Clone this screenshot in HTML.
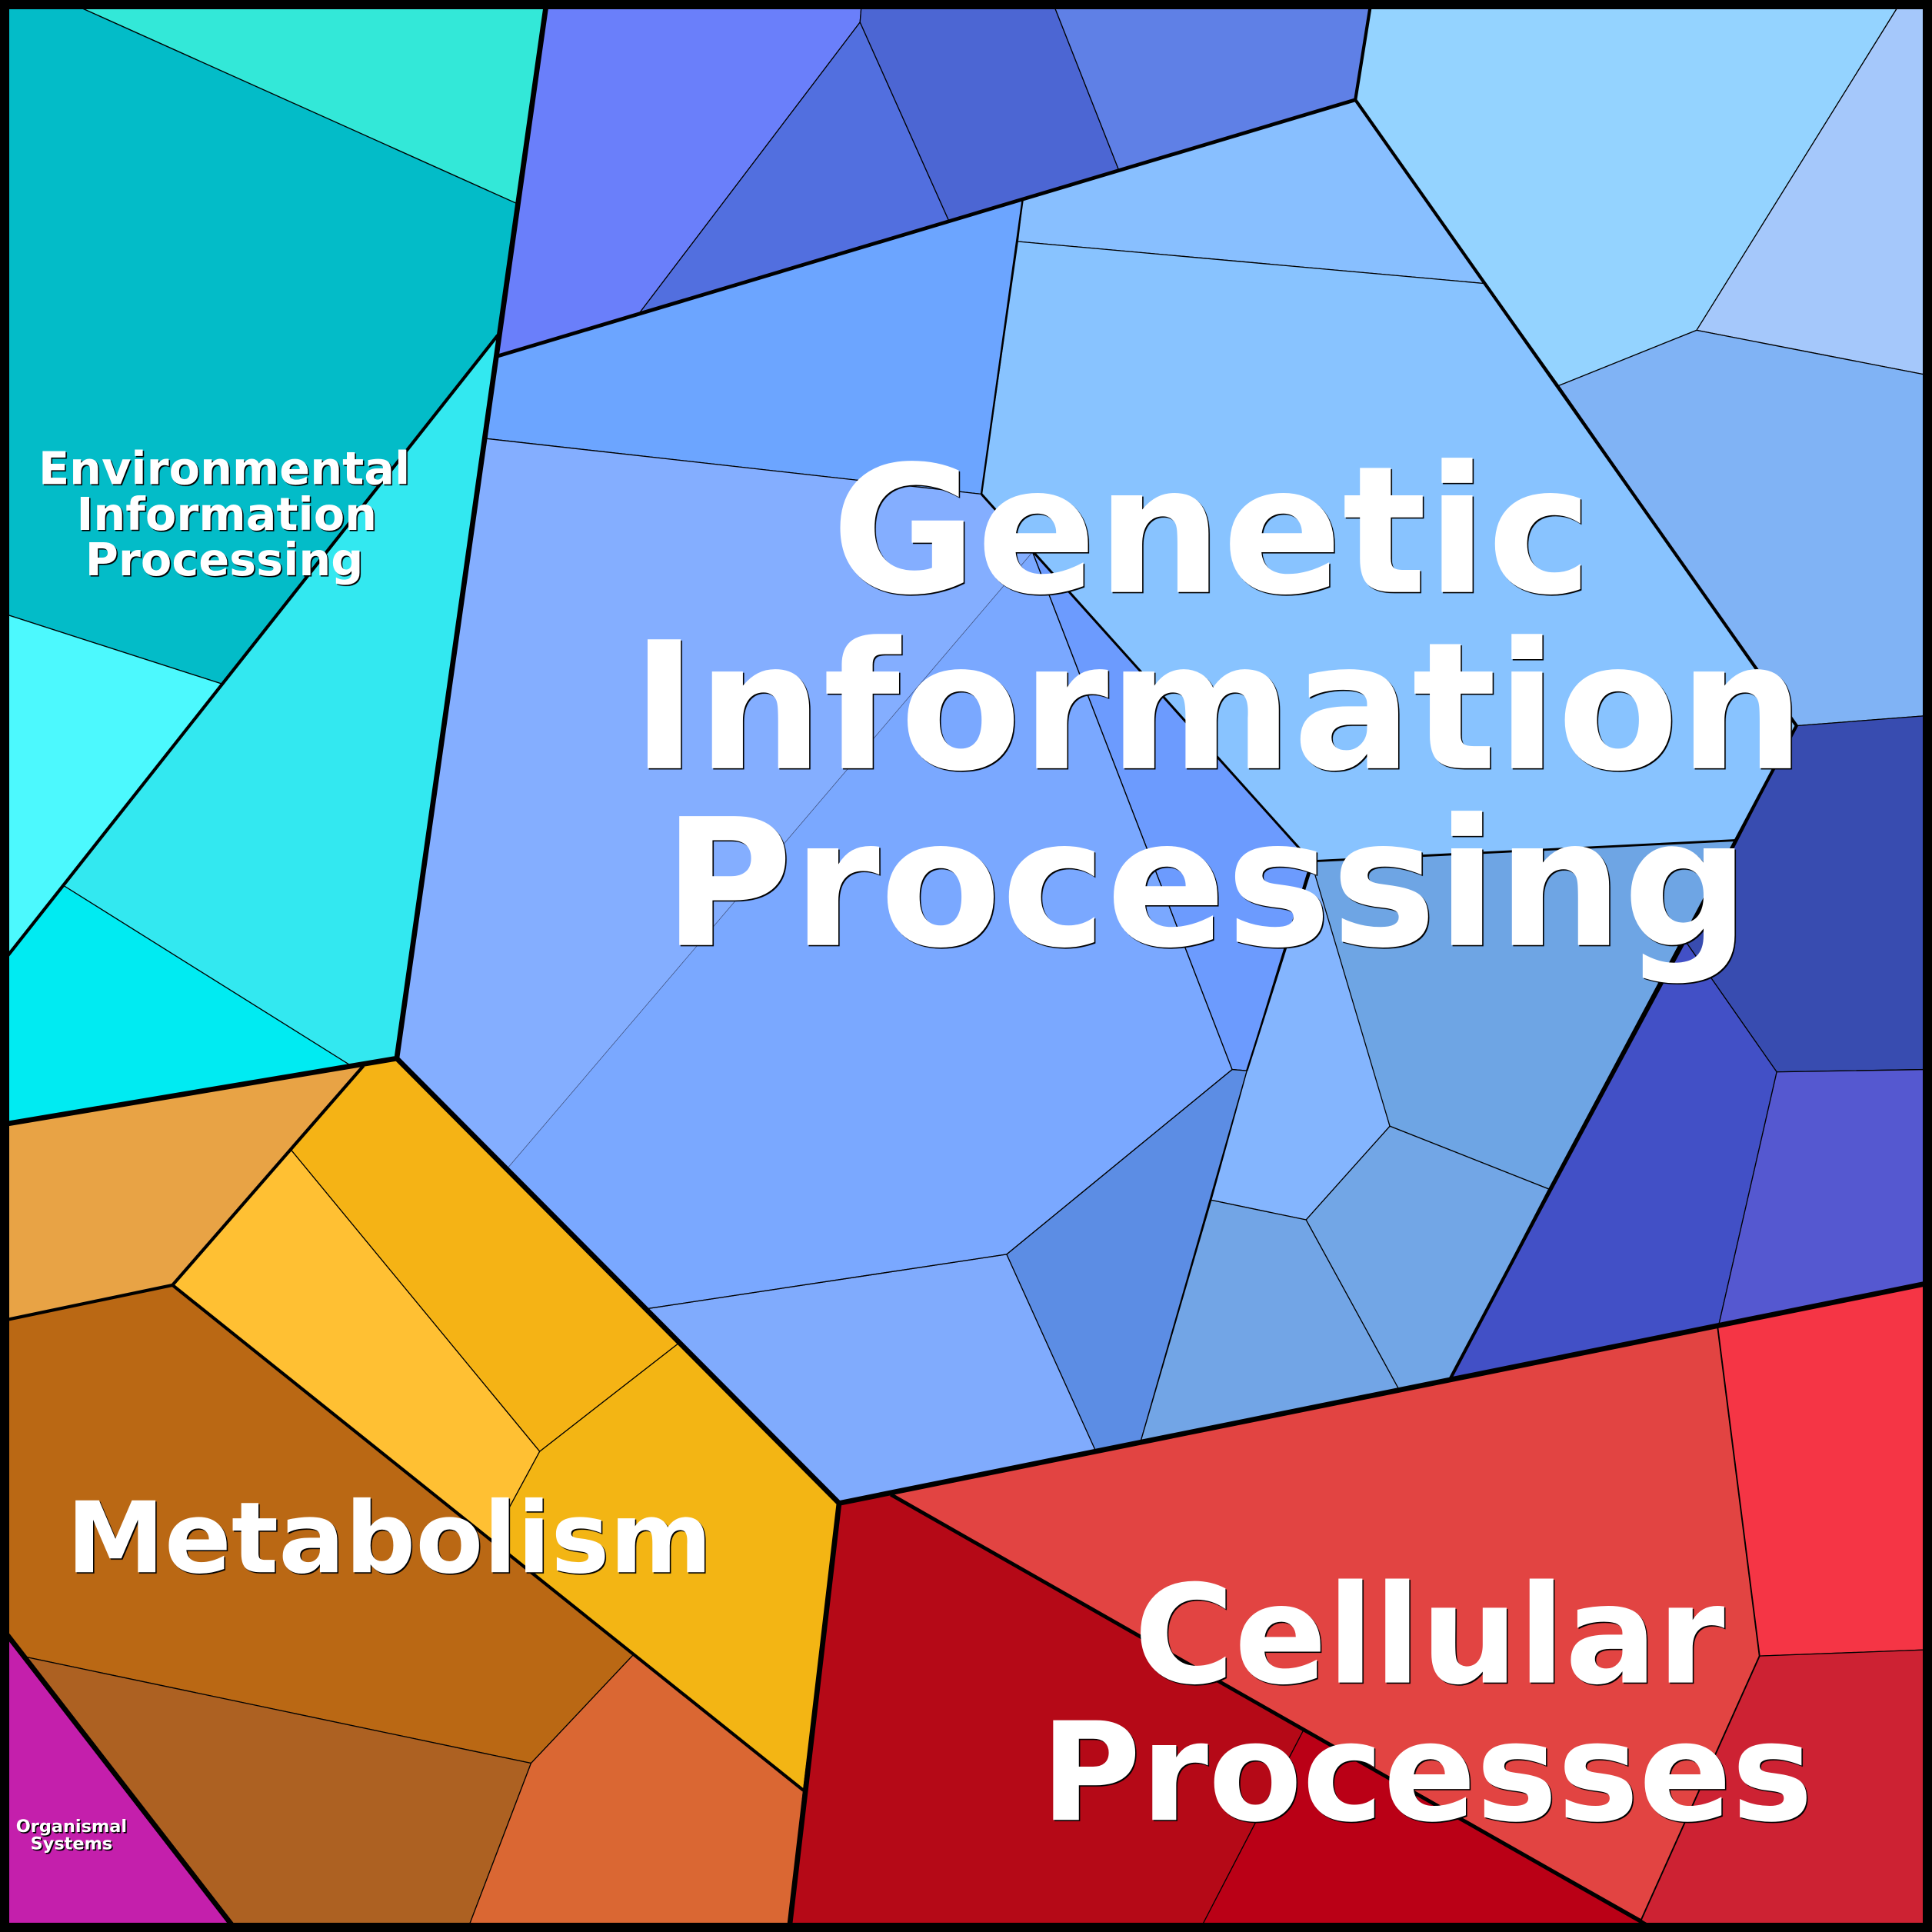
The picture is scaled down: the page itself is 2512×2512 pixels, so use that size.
<!DOCTYPE html>
<html><head><meta charset="utf-8"><style>
html,body{margin:0;padding:0;background:#000}
svg{display:block}
text{font-family:"DejaVu Sans",sans-serif;font-weight:bold;fill:#fff;text-anchor:middle;filter:drop-shadow(1px 1px 0 #000)}
.a{stroke:#000;stroke-width:.8;stroke-linejoin:round}
.t{fill:none;stroke:#000;stroke-width:.8;stroke-linejoin:round}
.l2{fill:none;stroke:#000;stroke-width:2.6;stroke-linejoin:round}
.l1{fill:none;stroke:#000;stroke-width:4.2;stroke-linejoin:round}
</style></head><body>
<svg width="2512" height="2512" viewBox="0 0 1568 1568" xmlns="http://www.w3.org/2000/svg">
<rect width="1568" height="1568" fill="#000"/>
<g class="a">
<polygon fill="#33e8d8" points="65,6 443,6 419,165"/>
<polygon fill="#03bcc8" points="6,6 65,6 419,165 404,272 180,555 6,499"/>
<polygon fill="#4cf9fe" points="6,499 180,555 6,776"/>
<polygon fill="#33e8f0" points="404,272 322,859 285,865 52,719 180,555"/>
<polygon fill="#00ebf2" points="52,719 285,865 6,912 6,776"/>
<polygon fill="#6a7ffa" points="443,6 699,6 698,18 519,254 404,289"/>
<polygon fill="#526fdf" points="698,18 770,179 519,254"/>
<polygon fill="#4c66d3" points="699,6 856,6 908,138 770,179 698,18"/>
<polygon fill="#5f80e6" points="856,6 1112,6 1100,81 908,138"/>
<polygon fill="#94d3ff" points="1112,6 1540,6 1377,268 1265,313 1100,81"/>
<polygon fill="#a5c8fb" points="1540,6 1562,6 1562,304 1377,268"/>
<polygon fill="#80b3f5" points="1265,313 1377,268 1562,304 1562,581 1458,589"/>
<polygon fill="#88bfff" points="1100,81 1204,230 826,196 830,162"/>
<polygon fill="#88c3ff" points="826,196 1204,230 1265,313 1458,589 1408,682 1064,699 838,448 796.5,401"/>
<polygon fill="#6ca5ff" points="404,289 830,162 796.5,401 395,356"/>
<polygon fill="#84aeff" stroke="none" points="395,356 796.5,401 838,448 412,948 322,859"/>
<polygon fill="#7aa8ff" stroke="none" points="838,448 1000,868 817,1018 526,1062 412,948"/>
<polygon fill="#6c9bfe" points="838,448 1064,699 1012,869 1000,868"/>
<polygon fill="#80abfd" points="526,1062 817,1018 889,1177 681,1220"/>
<polygon fill="#5c8de4" points="817,1018 1000,868 1012,869 926,1169 889,1177"/>
<polygon fill="#84b5fe" points="1012,869 1066,699 1128,914 1060,990 983,974"/>
<polygon fill="#6ea5e4" points="1064,699 1408,682 1257,965 1128,914"/>
<polygon fill="#72a6e6" points="1128,914 1257,965 1177,1119 1135,1127 1060,990"/>
<polygon fill="#72a5e6" points="983,974 1060,990 1135,1127 926,1169"/>
<polygon fill="#384cb0" points="1458,589 1562,581 1562,868 1442,870 1368,764"/>
<polygon fill="#4250c6" points="1368,764 1442,870 1395,1075 1177,1119"/>
<polygon fill="#5558d0" points="1442,870 1562,868 1562,1042 1395,1075"/>
<polygon fill="#e24442" points="723,1213 1394,1077 1428,1344 1332,1558"/>
<polygon fill="#f53545" points="1394,1077 1562,1042 1562,1339 1428,1344"/>
<polygon fill="#cd2233" points="1428,1344 1562,1339 1562,1562 1336,1562 1332,1558"/>
<polygon fill="#b50917" points="681,1220 723,1213 1058,1404 976,1562 641,1562"/>
<polygon fill="#ba0016" points="1058,1404 1336,1562 976,1562"/>
<polygon fill="#e8a345" points="6,912 295,865 140,1043 6,1071"/>
<polygon fill="#f5b315" points="295,865 322,859 551,1090 438,1178 236,933"/>
<polygon fill="#ffc033" points="236,933 438,1178 399,1250 140,1043"/>
<polygon fill="#f3b514" points="551,1090 681,1220 652,1453 399,1250 438,1178"/>
<polygon fill="#ba6814" points="6,1071 140,1043 514,1343 431,1431 22,1345 6,1327"/>
<polygon fill="#ad6122" points="22,1345 431,1431 381,1562 188,1562"/>
<polygon fill="#da6733" points="431,1431 514,1343 652,1453 641,1562 381,1562"/>
<polygon fill="#c41fac" points="6,1327 188,1562 6,1562"/>
</g>
<g class="t">
<polyline points="395,356 796.5,401"/>
<polyline points="838,448 1000,868 817,1018 526,1062"/>
<polyline points="412,948 838,448" stroke="#3f4f7a" stroke-width=".45"/>
<polyline points="1394,1077 1428,1344 1332,1558" stroke-width="1.2"/>
<polyline points="796.5,401 830,162" stroke-width="1.5"/>
<polyline points="1012,869 1066,699" stroke-width="1.5"/>
<polyline points="1064,699 1408,682" stroke-width="1.8"/>
<polyline points="796.5,401 1064,699" stroke-width="1.9"/>
</g>
<g class="l2">
<polyline points="404,289 1100,81" stroke-width="3"/>
<polyline points="1100,81 1458,589 1177,1119"/>
<polyline points="1112,6 1100,81"/>
<polyline points="404,272 6,776"/>
<polyline points="295,865 140,1043 652,1453"/>
<polyline points="723,1213 1336,1562" stroke-width="3"/>
<polyline points="140,1043 6,1071"/>
</g>
<g class="l1">
<polyline points="443,6 322,859 6,912"/>
<polyline points="322,859 681,1220 641,1562"/>
<polyline points="681,1220 1562,1042"/>
<polyline points="6,1327 188,1562"/>
</g>
<rect x="3.75" y="3.75" width="1560.5" height="1560.5" fill="none" stroke="#000" stroke-width="7.5"/>
<g>
<text font-size="143.5" x="983.5" y="480.5">Genetic</text>
<text font-size="143.5" x="988.5" y="623.5">Information</text>
<text font-size="143.5" x="979" y="767">Processing</text>
<text font-size="80" x="316" y="1276">Metabolism</text>
<text font-size="111" x="1160" y="1365.5">Cellular</text>
<text font-size="111" x="1158" y="1477">Processes</text>
<text font-size="36.75" x="182" y="393">Environmental</text>
<text font-size="36.75" x="184" y="430">Information</text>
<text font-size="36.75" x="182" y="467">Processing</text>
<text font-size="14" x="58" y="1487">Organismal</text>
<text font-size="14" x="58" y="1501">Systems</text>
</g>
</svg>
</body></html>
